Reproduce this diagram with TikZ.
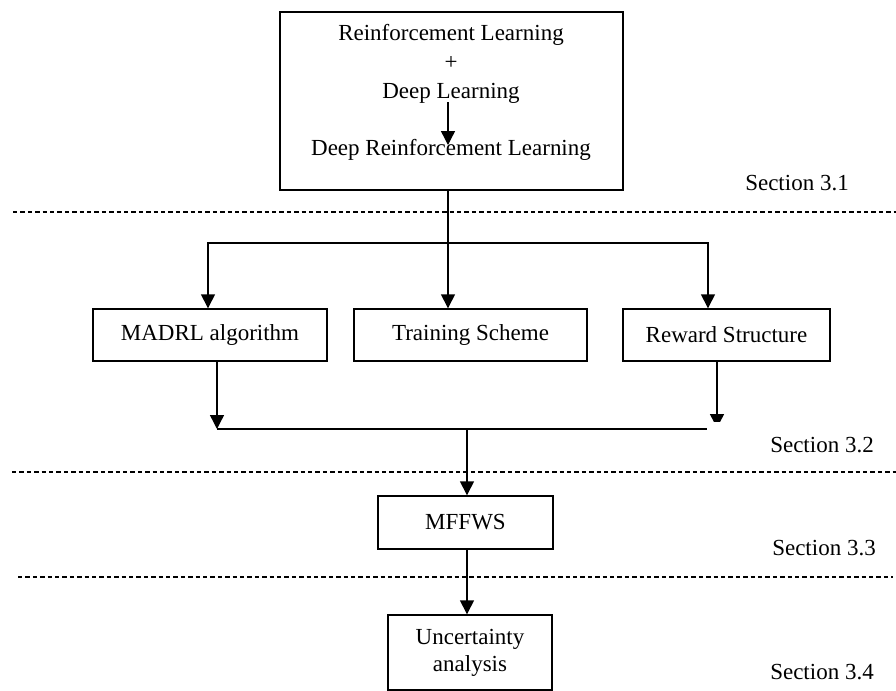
\documentclass[tikz,border=0pt]{standalone}
\usepackage{fontspec}
\setmainfont{Liberation Serif}
\usetikzlibrary{arrows.meta}

\begin{document}
\begin{tikzpicture}[x=0.5pt, y=-0.5pt,
    every node/.style={font=\fontsize{11.5}{13.5}\selectfont},
    box/.style={draw, line width=0.7pt, inner sep=0pt, align=center},
    arr/.style={line width=0.7pt, -{Triangle[length=7pt,width=7pt]}},
    line/.style={line width=0.7pt},
    sep/.style={line width=0.6pt, dash pattern=on 2.2pt off 1.5pt}]
  %tikz  schema a blocchi, sezioni 3.1 - 3.4
  \useasboundingbox (0,0) rectangle (896,691);
  % blocco superiore
  \node[box, minimum width=171.5pt, minimum height=89pt] (top) at (451.5,101) {};
  \node (rl)   at (451,35)  {Reinforcement Learning};
  \node (plus) at (451,63)  {+};
  \node (dl)   at (451,93)  {Deep Learning};
  \node (drl)  at (451,150) {Deep Reinforcement Learning};
  \coordinate (da) at (448,102);
  \coordinate (db) at (448,145);
  \draw[arr] (da) -- (db);
  % blocchi intermedi
  \node[box, minimum width=117pt, minimum height=26pt] (madrl) at (210,335) {MADRL algorithm};
  \node[box, minimum width=116.5pt, minimum height=26pt] (train) at (470.5,335) {Training Scheme};
  \node[box, minimum width=103.5pt, minimum height=26pt] (reward) at (726.5,335) {Reward Structure};
  % blocchi inferiori
  \node[box, minimum width=87.5pt, minimum height=26.5pt] (mffws) at (465.5,522.5) {MFFWS};
  \node[box, minimum width=82pt, minimum height=37.5pt] (unc) at (470,652.5) {Uncertainty\\analysis};
  % sezioni
  \node (s1) at (797,183) {Section 3.1};
  \node (s2) at (822,445) {Section 3.2};
  \node (s3) at (824,548) {Section 3.3};
  \node (s4) at (822,672) {Section 3.4};
  \draw[sep] (13,212) -- (896,212);
  \draw[sep] (12,472) -- (896,472);
  \draw[sep] (18,577) -- (893,577);
  % diramazione
  \coordinate (split) at (448,243);
  \coordinate (lb) at (208,243);
  \coordinate (rb) at (708,243);
  \draw[line] (top.south -| split) -- (split);
  \draw[arr] (split) -- (split |- train.north);
  \draw[arr] (split) -- (lb) -- (lb |- madrl.north);
  \draw[arr] (split) -- (rb) -- (rb |- reward.north);
  % raccolta
  \coordinate (lj) at (217,429);
  \coordinate (rj) at (707,429);
  \coordinate (mj) at (467,429);
  \coordinate (rt) at (717,428);
  \draw[arr] (madrl.south -| lj) -- (lj);
  \begin{scope}
    \clip (700,360) rectangle (740,421);
    \draw[arr] (reward.south -| rt) -- (rt);
  \end{scope}
  \draw[line] (lj) -- (rj);
  \draw[arr] (mj) -- (mj |- mffws.north);
  \draw[arr] (mffws.south -| mj) -- (mj |- unc.north);
\end{tikzpicture}
\end{document}
